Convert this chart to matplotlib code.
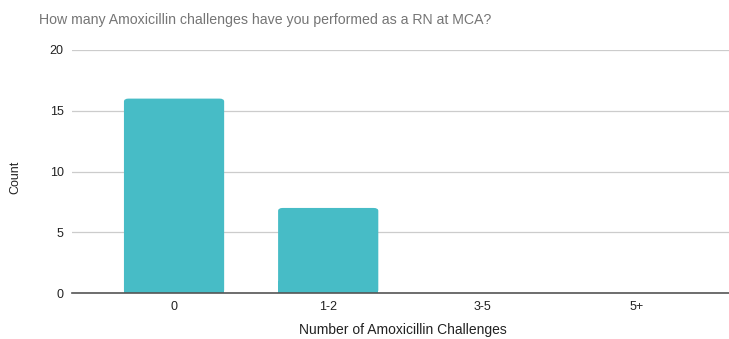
import matplotlib
matplotlib.use("Agg")
import matplotlib.pyplot as plt
from matplotlib.patches import FancyBboxPatch

plt.rcParams['font.family'] = ['Liberation Sans', 'DejaVu Sans']

categories = ["0", "1-2", "3-5", "5+"]
counts = [16, 7, 0, 0]
y_ticks = [0, 5, 10, 15, 20]

BAR_COLOR = "#47bcc6"

fig = plt.figure(figsize=(7.29, 3.39), dpi=100)
ax = fig.add_axes([72 / 729, 1 - 293 / 339, 1 - 72 / 729, (293 - 50) / 339])

x = list(range(len(categories)))
bars = ax.bar(x, counts, width=0.65, color=BAR_COLOR, zorder=2)

# soften the bar tops a little
for b in bars:
    h = b.get_height()
    if h <= 0:
        continue
    b.set_visible(False)
    patch = FancyBboxPatch((b.get_x(), 0), b.get_width(), h,
                           boxstyle="round,pad=0,rounding_size=0.03",
                           mutation_aspect=8, facecolor=BAR_COLOR,
                           edgecolor="none", zorder=2)
    ax.add_patch(patch)
    # square off the bottom corners
    ax.bar(b.get_x() + b.get_width() / 2, min(h, 1), width=b.get_width(),
           color=BAR_COLOR, zorder=2)

ax.set_xlim(-0.662, 3.6)
ax.set_ylim(0, 20)
ax.set_yticks(y_ticks)
ax.set_xticks(x)
ax.set_xticklabels(categories)
ax.tick_params(axis="both", length=0, labelsize=9, colors="#222222")
ax.tick_params(axis="x", pad=6)
ax.tick_params(axis="y", pad=6)

ax.grid(axis="y", color="#cccccc", linewidth=0.9, zorder=0)
for s in ("top", "right", "left"):
    ax.spines[s].set_visible(False)
ax.spines["bottom"].set_color("#555555")
ax.spines["bottom"].set_linewidth(1.2)
ax.spines["bottom"].set_zorder(3)

fig.text(15 / 729, 1 - 177 / 339, "Count", rotation=90,
         ha="center", va="center", fontsize=9, color="#222222")
fig.text(403 / 729, 2 / 339, "Number of Amoxicillin Challenges",
         ha="center", va="bottom", fontsize=10, color="#222222")
fig.text(39 / 729, 1 - 20 / 339,
         "How many Amoxicillin challenges have you performed as a RN at MCA?",
         ha="left", va="center", fontsize=10.2, color="#757575")

fig.savefig("out.png", dpi=100)
